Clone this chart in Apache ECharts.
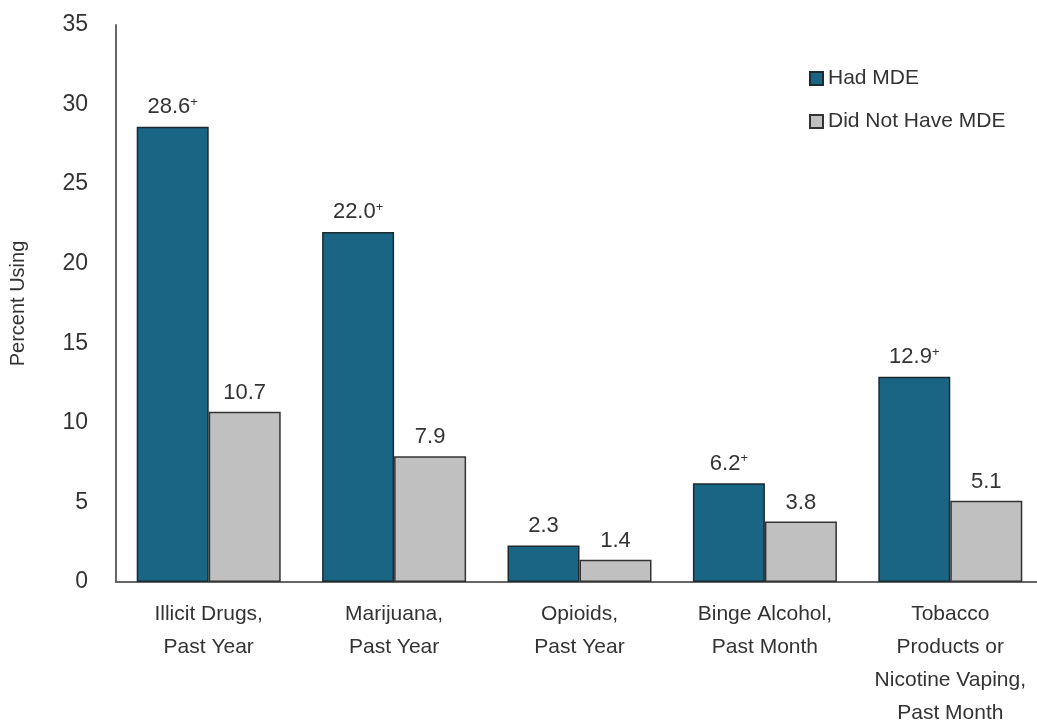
<!DOCTYPE html>
<html><head><meta charset="utf-8">
<script src="https://cdn.jsdelivr.net/npm/echarts@6/dist/echarts.min.js"></script>
<style>html,body{margin:0;padding:0;background:#fff}#c{width:1037px;height:723px}</style>
</head><body><div id="c"></div>
<script>
const categories = ["Illicit Drugs,\nPast Year", "Marijuana,\nPast Year", "Opioids,\nPast Year", "Binge Alcohol,\nPast Month", "Tobacco\nProducts or\nNicotine Vaping,\nPast Month"];
const hadMDE = [28.6, 22.0, 2.3, 6.2, 12.9];
const noMDE = [10.7, 7.9, 1.4, 3.8, 5.1];
const hadMDESig = [true, true, false, true, true];
const yTicks = [0, 5, 10, 15, 20, 25, 30, 35];

const FONT = "'Liberation Sans Narrow','Arial Narrow','Liberation Sans',sans-serif";
const TXT = '#333';
const chart = echarts.init(document.getElementById('c'));
chart.setOption({
  animation: false,
  textStyle: {fontFamily: FONT},
  legend: {
    orient: 'vertical', left: 804, top: 63, itemGap: 22, itemWidth: 13, itemHeight: 13,
    icon: 'rect',
    textStyle: {fontFamily: FONT, fontSize: 21, color: TXT},
    data: ['Had MDE', 'Did Not Have MDE']
  },
  grid: {left: 116, top: 25, width: 927, height: 557, outerBoundsMode: 'none', containLabel: false},
  xAxis: {
    type: 'category', data: categories,
    axisLine: {lineStyle: {color: '#666', width: 2}},
    axisTick: {show: false},
    axisLabel: {fontFamily: FONT, fontSize: 21, color: TXT, lineHeight: 33, margin: 16, interval: 0}
  },
  yAxis: {
    type: 'value', min: yTicks[0], max: yTicks[yTicks.length - 1], interval: 5,
    name: 'Percent Using', nameLocation: 'middle', nameGap: 88, nameRotate: 90,
    nameTextStyle: {fontFamily: FONT, fontSize: 20, color: TXT},
    axisLine: {show: true, lineStyle: {color: '#666', width: 2}},
    axisTick: {show: false},
    splitLine: {show: false},
    axisLabel: {fontFamily: FONT, fontSize: 23, color: TXT, margin: 28}
  },
  series: [
    {
      name: 'Had MDE', type: 'bar', data: hadMDE, barWidth: 72, barGap: '0%',
      itemStyle: {color: '#1a6484', borderColor: '#1d2a30', borderWidth: 1.5},
      label: {
        show: true, position: 'top', distance: 8,
        formatter: p => p.value.toFixed(1) + (hadMDESig[p.dataIndex] ? '{s|+}' : ''),
        fontFamily: FONT, fontSize: 22, color: TXT,
        rich: {s: {fontFamily: FONT, fontSize: 13, color: TXT, verticalAlign: 'top', padding: [0, 0, 10, 0]}}
      }
    },
    {
      name: 'Did Not Have MDE', type: 'bar', data: noMDE, barWidth: 72,
      itemStyle: {color: '#c0c0c0', borderColor: '#333', borderWidth: 1.5},
      label: {
        show: true, position: 'top', distance: 8,
        formatter: p => p.value.toFixed(1),
        fontFamily: FONT, fontSize: 22, color: TXT
      }
    }
  ]
});
</script></body></html>
